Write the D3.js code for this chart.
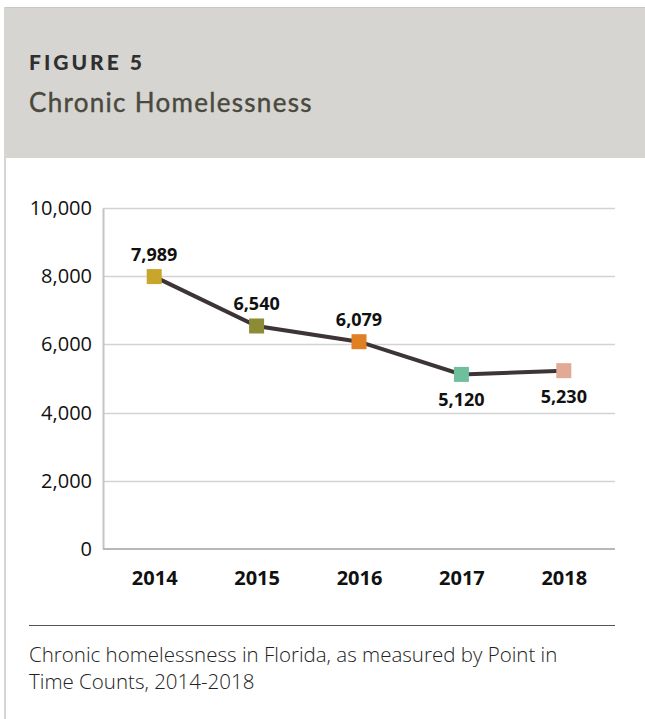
<!DOCTYPE html>
<html>
<head>
<meta charset="utf-8">
<script src="https://cdn.jsdelivr.net/npm/d3@7"></script>
<style>
  body { margin: 0; background: #fff; }
</style>
</head>
<body>
<div id="chart"></div>
<script>
// data
var years = ["2014", "2015", "2016", "2017", "2018"];
var counts = [7989, 6540, 6079, 5120, 5230];
var markerColors = ["#c9a62b", "#8c8b36", "#e07f24", "#6fbf9d", "#e2a995"];
var labelBelow = [false, false, false, true, true];
var yTicks = [0, 2000, 4000, 6000, 8000, 10000];

var W = 645, H = 719;
var svg = d3.select("#chart").append("svg")
  .attr("width", W).attr("height", H);

// header panel
svg.append("rect")
  .attr("x", 4).attr("y", 7).attr("width", W - 4).attr("height", 151)
  .attr("fill", "#d6d5d1");
svg.append("line")
  .attr("x1", 4).attr("x2", W).attr("y1", 7.5).attr("y2", 7.5)
  .attr("stroke", "#c8c7c3");
// left rule running down the page
svg.append("line")
  .attr("x1", 5).attr("x2", 5).attr("y1", 7).attr("y2", H)
  .attr("stroke", "#d6d5d1").attr("stroke-width", 2);

svg.append("text")
  .attr("x", 29).attr("y", 70)
  .style("font-family", "Lato, sans-serif")
  .style("font-size", "21px").style("font-weight", 900)
  .style("letter-spacing", "3px")
  .attr("fill", "#2f2f2f")
  .text("FIGURE 5");
svg.append("text")
  .attr("x", 29).attr("y", 112)
  .style("font-family", "Lato, sans-serif")
  .style("font-size", "26px").style("letter-spacing", "1.3px")
  .attr("stroke", "#4a493f").attr("stroke-width", 0.4)
  .attr("fill", "#4a493f")
  .text("Chronic Homelessness");

// plot area
var plotLeft = 103, plotRight = 615, plotTop = 208, plotBottom = 549;

var x = d3.scalePoint().domain(years).range([plotLeft, plotRight]).padding(0.5);
var y = d3.scaleLinear().domain([0, 10000]).range([plotBottom, plotTop]);

// gridlines
svg.append("g")
  .selectAll("line")
  .data(yTicks.filter(function(d){ return d > 0; }))
  .enter().append("line")
  .attr("x1", plotLeft).attr("x2", plotRight)
  .attr("y1", function(d){ return Math.round(y(d)) + 0.5; })
  .attr("y2", function(d){ return Math.round(y(d)) + 0.5; })
  .attr("stroke", "#d3d3d3").attr("stroke-width", 1.5);

// y axis
var yAxis = svg.append("g")
  .attr("transform", "translate(" + plotLeft + ",0)")
  .call(d3.axisLeft(y).tickValues(yTicks).tickSize(0).tickPadding(11)
        .tickFormat(d3.format(",")));
yAxis.select(".domain").attr("stroke", "#c4c4c4").attr("stroke-width", 2);
yAxis.selectAll("text")
  .style("font-family", "'Open Sans', sans-serif")
  .style("font-size", "20px").attr("fill", "#111");

// x axis
var xAxis = svg.append("g")
  .attr("transform", "translate(0," + plotBottom + ")")
  .call(d3.axisBottom(x).tickSize(0).tickPadding(22));
xAxis.select(".domain").attr("stroke", "#b8b8b8").attr("stroke-width", 2)
  .attr("d", "M" + plotLeft + ",0H" + plotRight);
xAxis.selectAll("text")
  .style("font-family", "'Open Sans', sans-serif")
  .style("font-size", "20px").style("font-weight", "bold").attr("fill", "#111");

// line
var pts = years.map(function(yr, i){ return { year: yr, value: counts[i], color: markerColors[i], below: labelBelow[i] }; });

svg.append("path")
  .datum(pts)
  .attr("fill", "none")
  .attr("stroke", "#3d3535")
  .attr("stroke-width", 4)
  .attr("d", d3.line()
    .x(function(d){ return x(d.year); })
    .y(function(d){ return y(d.value); }));

// markers
var s = 15;
svg.selectAll("rect.marker")
  .data(pts)
  .enter().append("rect")
  .attr("class", "marker")
  .attr("x", function(d){ return x(d.year) - s / 2; })
  .attr("y", function(d){ return y(d.value) - s / 2; })
  .attr("width", s).attr("height", s)
  .attr("fill", function(d){ return d.color; });

// value labels
svg.selectAll("text.val")
  .data(pts)
  .enter().append("text")
  .attr("class", "val")
  .attr("x", function(d){ return x(d.year); })
  .attr("y", function(d){ return y(d.value) + (d.below ? 32 : -16); })
  .attr("text-anchor", "middle")
  .style("font-family", "'Open Sans', sans-serif")
  .style("font-size", "18px").style("font-weight", "bold").attr("fill", "#111")
  .text(function(d){ return d3.format(",")(d.value); });

// caption
svg.append("line")
  .attr("x1", 29).attr("x2", 615).attr("y1", 625.5).attr("y2", 625.5)
  .attr("stroke", "#555").attr("stroke-width", 1);
var cap = svg.append("text")
  .attr("x", 29).attr("y", 662)
  .style("font-family", "'Open Sans', sans-serif")
  .style("font-size", "20.5px").style("font-weight", 300).attr("fill", "#222");
cap.append("tspan").attr("x", 29).text("Chronic homelessness in Florida, as measured by Point in");
cap.append("tspan").attr("x", 29).attr("dy", 27).text("Time Counts, 2014-2018");
</script>
</body>
</html>
